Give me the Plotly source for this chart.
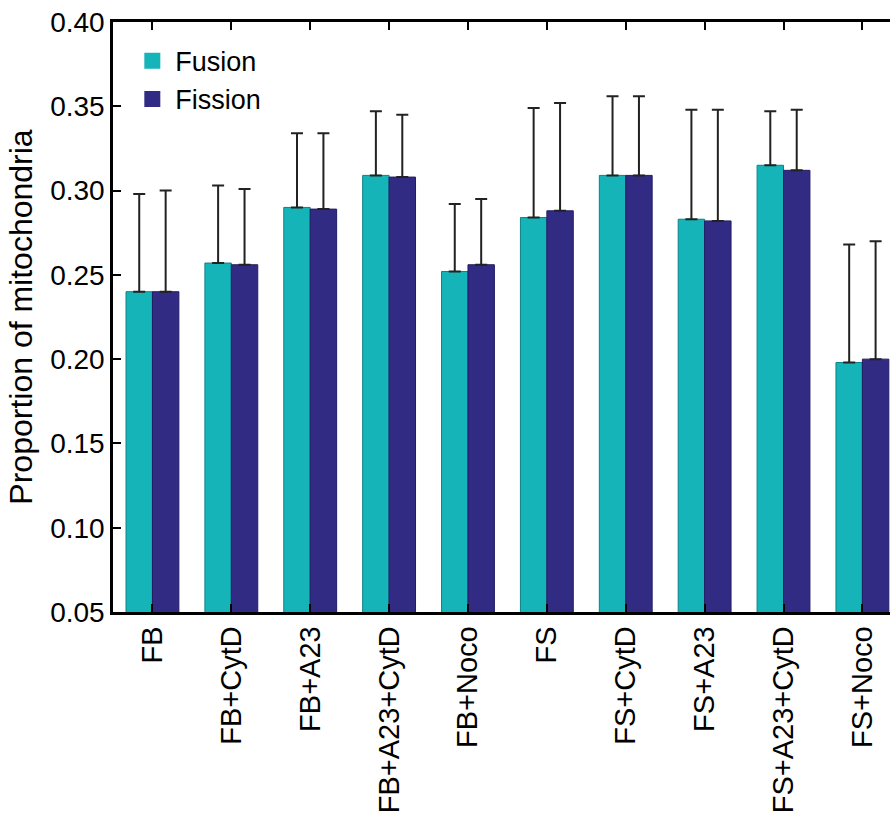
import plotly.graph_objects as go

categories = ["FB", "FB+CytD", "FB+A23", "FB+A23+CytD", "FB+Noco",
              "FS", "FS+CytD", "FS+A23", "FS+A23+CytD", "FS+Noco"]
fusion = [0.240, 0.257, 0.290, 0.309, 0.252, 0.284, 0.309, 0.283, 0.315, 0.198]
fission = [0.240, 0.256, 0.289, 0.308, 0.256, 0.288, 0.309, 0.282, 0.312, 0.200]
fusion_err_top = [0.298, 0.303, 0.334, 0.347, 0.292, 0.349, 0.356, 0.348, 0.347, 0.268]
fission_err_top = [0.300, 0.301, 0.334, 0.345, 0.295, 0.352, 0.356, 0.348, 0.348, 0.270]
y_ticks = [0.05, 0.10, 0.15, 0.20, 0.25, 0.30, 0.35, 0.40]

fusion_err = [t - v for t, v in zip(fusion_err_top, fusion)]
fission_err = [t - v for t, v in zip(fission_err_top, fission)]

CYAN = "rgb(20,180,184)"
NAVY = "rgb(50,43,132)"
FONT = "Liberation Sans, Arial, Helvetica, sans-serif"

fig = go.Figure()
fig.add_trace(go.Bar(
    x=categories, y=fusion, name="Fusion", showlegend=False,
    marker=dict(color=CYAN, line=dict(color="rgb(14,130,134)", width=1)),
    error_y=dict(type="data", symmetric=False, array=fusion_err,
                 arrayminus=[0] * len(fusion), color="#222222", thickness=2, width=6),
))
fig.add_trace(go.Bar(
    x=categories, y=fission, name="Fission", showlegend=False,
    marker=dict(color=NAVY, line=dict(color="rgb(34,28,100)", width=1)),
    error_y=dict(type="data", symmetric=False, array=fission_err,
                 arrayminus=[0] * len(fission), color="#222222", thickness=2, width=6),
))
# legend entries with larger square swatches
fig.add_trace(go.Scatter(x=[None], y=[None], mode="markers", name="Fusion",
                         marker=dict(symbol="square", size=19, color=CYAN)))
fig.add_trace(go.Scatter(x=[None], y=[None], mode="markers", name="Fission",
                         marker=dict(symbol="square", size=19, color=NAVY)))

fig.update_layout(
    width=890, height=814,
    margin=dict(l=113, r=0, t=22, b=202),
    paper_bgcolor="white", plot_bgcolor="white",
    barmode="group", bargap=0.33, bargroupgap=0.0,
    font=dict(family=FONT, color="black"),
    legend=dict(x=0.021, y=0.975, xanchor="left", yanchor="top",
                font=dict(size=27, family=FONT), itemsizing="trace", itemwidth=36,
                bgcolor="rgba(0,0,0,0)", tracegroupgap=0),
)
fig.update_xaxes(
    range=[-0.5, 9.35], showline=True, linecolor="black", linewidth=2.5,
    mirror="ticks", ticks="inside", ticklen=8, tickwidth=2, tickcolor="black",
    tickangle=-90, tickfont=dict(size=29, family=FONT, color="black"),
    ticklabeloverflow="allow", showgrid=False, zeroline=False,
)
fig.update_yaxes(
    range=[0.05, 0.40], tickvals=y_ticks, ticktext=[f"{v:.2f}" for v in y_ticks],
    showline=True, linecolor="black", linewidth=2.5,
    ticks="inside", ticklen=8, tickwidth=2, tickcolor="black",
    tickfont=dict(size=28, family=FONT, color="black"), ticklabeloverflow="allow",
    title=dict(text="Proportion of mitochondria", font=dict(size=32, family=FONT, color="black"),
               standoff=8),
    showgrid=False, zeroline=False,
)

fig.write_html(
    "out.html",
    config={"displayModeBar": False},
    post_script="document.body.style.margin='0';document.body.style.overflow='hidden';",
)
